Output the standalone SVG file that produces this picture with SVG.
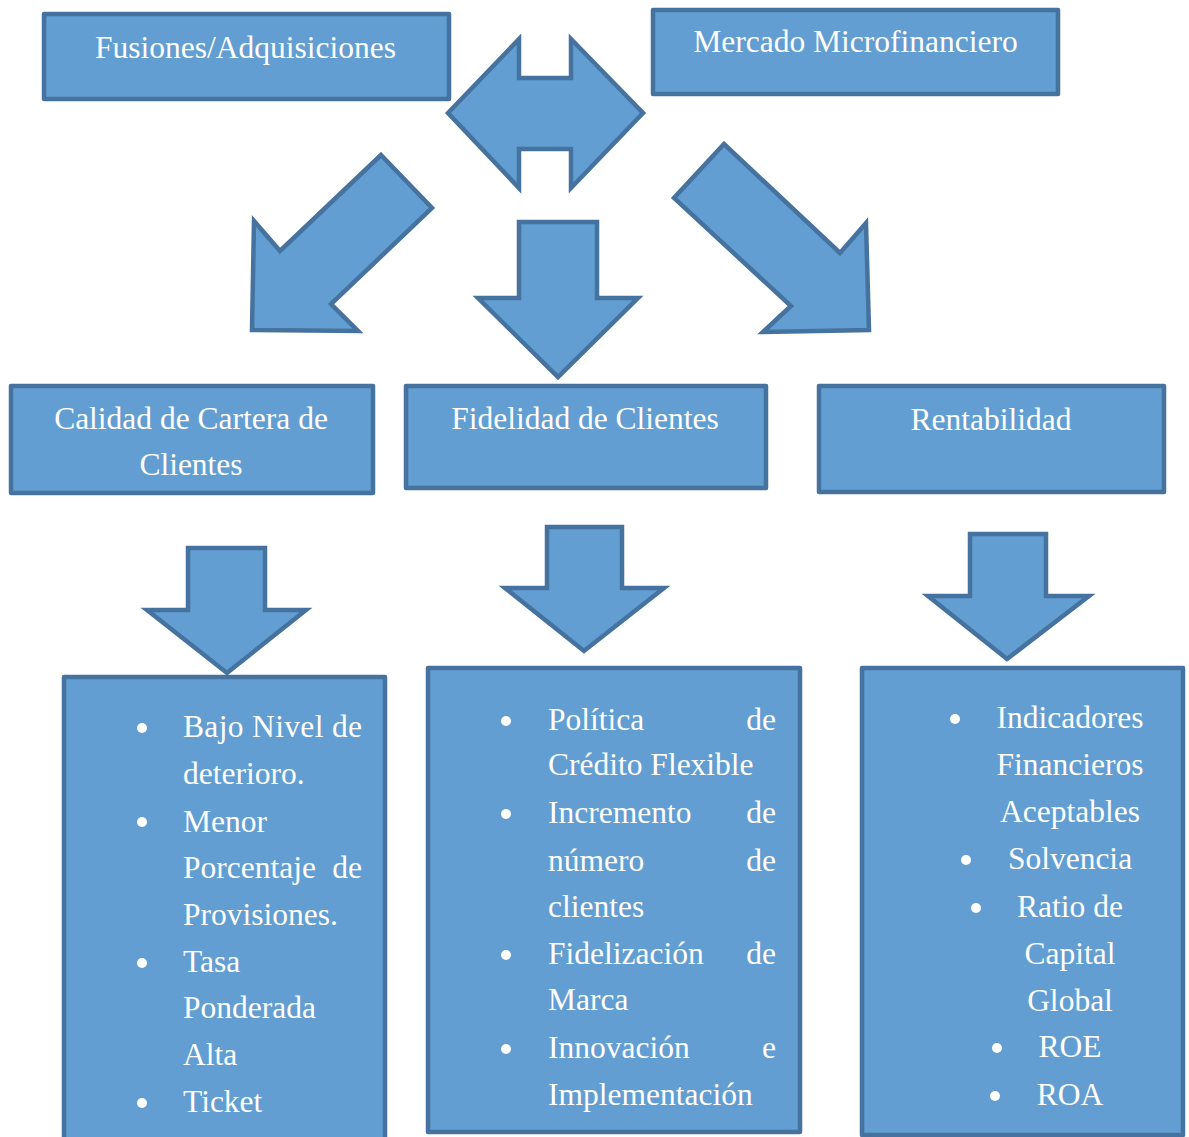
<svg xmlns="http://www.w3.org/2000/svg" width="1189" height="1137" viewBox="0 0 1189 1137">
<style>
.box{fill:#629ED1;stroke:#45729E;stroke-width:4.5;stroke-linejoin:round}
.arr{fill:#629ED1;stroke:#45729E;stroke-width:4.5;stroke-linejoin:miter}
text{font-family:"Liberation Serif","Times New Roman",serif;font-size:31.5px;fill:#FFFFFF}
.c{text-anchor:middle}
.e{text-anchor:end}
.dot{fill:#FFFFFF}
</style>
<rect width="1189" height="1137" fill="#FFFFFF"/>
<g id="connectors">
<polygon class="arr" points="448,113 519,39 519,78 571,78 571,39 643,113 571,188 571,149 519,149 519,188"/>
<polygon class="arr" points="381,155 432,208 331,304 358,331 252,330 254,221 280,251"/>
<polygon class="arr" points="519,222 597,222 597,298 638,298 558,377 478,298 519,298"/>
<polygon class="arr" points="724,144 674,198 791,306 763,332 869,330 866,223 840,253"/>
<polygon class="arr" points="188,548 265,548 265,610 306,610 227,673 147,610 188,610"/>
<polygon class="arr" points="547,527 622,527 622,588 664,588 584,651 505,588 547,588"/>
<polygon class="arr" points="970,534 1046,534 1046,596 1089,596 1007,659 928,596 970,596"/>
</g>
<g id="fusiones">
<rect class="box" x="44" y="14" width="405" height="85"/>
<text class="c" x="245.5" y="58">Fusiones/Adquisiciones</text>
</g>
<g id="mercado">
<rect class="box" x="653" y="10" width="405" height="84"/>
<text class="c" x="855.5" y="52">Mercado Microfinanciero</text>
</g>
<g id="calidad">
<rect class="box" x="11" y="386" width="362" height="107"/>
<text class="c" x="191" y="429">Calidad de Cartera de</text>
<text class="c" x="191" y="475">Clientes</text>
</g>
<g id="fidelidad">
<rect class="box" x="406" y="386" width="360" height="102"/>
<text class="c" x="585" y="429">Fidelidad de Clientes</text>
</g>
<g id="rentabilidad">
<rect class="box" x="819" y="386" width="345" height="106"/>
<text class="c" x="991" y="430">Rentabilidad</text>
</g>
<g id="lista-calidad">
<rect class="box" x="64" y="677" width="321" height="470"/>
<circle class="dot" cx="142" cy="728" r="5"/>
<text x="183" y="737" textLength="179" lengthAdjust="spacing">Bajo Nivel de</text>
<text x="183" y="784">deterioro.</text>
<circle class="dot" cx="142" cy="822" r="5"/>
<text x="183" y="832">Menor</text>
<text y="878"><tspan x="183">Porcentaje</tspan><tspan class="e" x="362">  de</tspan></text>
<text x="183" y="925">Provisiones.</text>
<circle class="dot" cx="142" cy="963" r="5"/>
<text x="183" y="972">Tasa</text>
<text x="183" y="1018">Ponderada</text>
<text x="183" y="1065">Alta</text>
<circle class="dot" cx="142" cy="1103" r="5"/>
<text x="183" y="1112">Ticket</text>
</g>
<g id="lista-fidelidad">
<rect class="box" x="428" y="668" width="372" height="464"/>
<circle class="dot" cx="506" cy="721" r="5"/>
<text y="730"><tspan x="548">Política</tspan><tspan class="e" x="776"> de</tspan></text>
<text x="548" y="775">Crédito Flexible</text>
<circle class="dot" cx="506" cy="814" r="5"/>
<text y="823"><tspan x="548">Incremento</tspan><tspan class="e" x="776"> de</tspan></text>
<text y="871"><tspan x="548">número</tspan><tspan class="e" x="776"> de</tspan></text>
<text x="548" y="917">clientes</text>
<circle class="dot" cx="506" cy="955" r="5"/>
<text y="964"><tspan x="548">Fidelización</tspan><tspan class="e" x="776"> de</tspan></text>
<text x="548" y="1010">Marca</text>
<circle class="dot" cx="506" cy="1049" r="5"/>
<text y="1058"><tspan x="548">Innovación</tspan><tspan class="e" x="776"> e</tspan></text>
<text x="548" y="1105">Implementación</text>
</g>
<g id="lista-rentabilidad">
<rect class="box" x="862" y="668" width="321" height="467"/>
<circle class="dot" cx="955" cy="719" r="5"/>
<text class="c" x="1070" y="728">Indicadores</text>
<text class="c" x="1070" y="775">Financieros</text>
<text class="c" x="1070" y="822">Aceptables</text>
<circle class="dot" cx="966" cy="860" r="5"/>
<text class="c" x="1070" y="869">Solvencia</text>
<circle class="dot" cx="976" cy="908" r="5"/>
<text class="c" x="1070" y="917">Ratio de</text>
<text class="c" x="1070" y="964">Capital</text>
<text class="c" x="1070" y="1011">Global</text>
<circle class="dot" cx="997" cy="1048" r="5"/>
<text class="c" x="1070" y="1057">ROE</text>
<circle class="dot" cx="995" cy="1096" r="5"/>
<text class="c" x="1070" y="1105">ROA</text>
</g>
</svg>
